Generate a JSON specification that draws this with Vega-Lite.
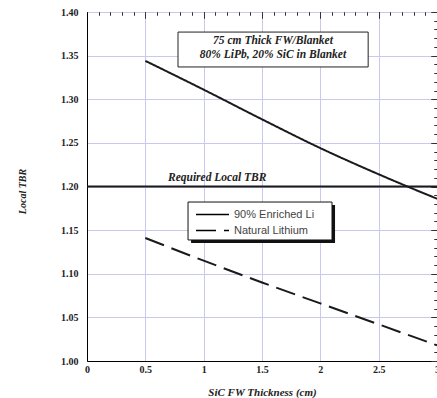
{
  "$schema": "https://vega.github.io/schema/vega-lite/v6.json",
  "autosize": {"type": "none"},
  "width": 350,
  "height": 349,
  "padding": {"left": 87, "top": 12, "right": 0, "bottom": 37},
  "background": "white",
  "config": {
    "view": {"stroke": "black", "strokeWidth": 1},
    "axis": {"domainColor": "black", "tickColor": "#333", "labelFont": "Liberation Serif", "titleFont": "Liberation Serif"}
  },
  "datasets": {
    "curves": [
      {"x": 0.5, "tbr": 1.344, "series": "90% Enriched Li"},
      {"x": 1.0, "tbr": 1.311, "series": "90% Enriched Li"},
      {"x": 1.5, "tbr": 1.277, "series": "90% Enriched Li"},
      {"x": 2.0, "tbr": 1.244, "series": "90% Enriched Li"},
      {"x": 2.5, "tbr": 1.214, "series": "90% Enriched Li"},
      {"x": 3.0, "tbr": 1.186, "series": "90% Enriched Li"},
      {"x": 0.5, "tbr": 1.141, "series": "Natural Lithium"},
      {"x": 1.0, "tbr": 1.115, "series": "Natural Lithium"},
      {"x": 1.5, "tbr": 1.090, "series": "Natural Lithium"},
      {"x": 2.0, "tbr": 1.066, "series": "Natural Lithium"},
      {"x": 2.5, "tbr": 1.042, "series": "Natural Lithium"},
      {"x": 3.0, "tbr": 1.018, "series": "Natural Lithium"}
    ],
    "required": [{"x0": 0, "x1": 3, "tbr": 1.2}],
    "legendshadow": [{"x0": 0.892, "x1": 2.126, "y0": 1.1788, "y1": 1.1353}],
    "legendbox": [{"x0": 0.866, "x1": 2.1, "y0": 1.1822, "y1": 1.1387}],
    "titlebox": [{"x0": 0.78, "x1": 2.41, "y0": 1.377, "y1": 1.337}],
    "boxtext": [
      {"x": 1.594, "y": 1.367, "label": "75 cm Thick FW/Blanket"},
      {"x": 1.594, "y": 1.3507, "label": "80% LiPb, 20% SiC in Blanket"}
    ],
    "reqtext": [{"x": 0.694, "y": 1.2063, "label": "Required Local TBR"}]
  },
  "layer": [
    {
      "data": {"name": "curves"},
      "mark": {"type": "line", "color": "#1a1a1a", "strokeWidth": 2, "interpolate": "monotone"},
      "encoding": {
        "x": {"field": "x", "type": "quantitative", "scale": {"domain": [0, 3], "nice": false, "zero": false},
          "axis": {"values": [0, 0.5, 1, 1.5, 2, 2.5, 3], "format": "~g", "ticks": false, "grid": true, "gridColor": "#c8c8f0", "labelFlush": false, "labelFontWeight": "bold", "labelFontSize": 10, "labelColor": "#222", "labelPadding": 3,
            "title": "SiC FW Thickness (cm)", "titleFontStyle": "italic", "titleFontWeight": "bold", "titleFontSize": 11, "titleColor": "#222", "titleBaseline": "middle", "titleY": 31}},
        "y": {"field": "tbr", "type": "quantitative", "scale": {"domain": [1.0, 1.4], "nice": false, "zero": false},
          "axis": {"values": [1.0, 1.05, 1.1, 1.15, 1.2, 1.25, 1.3, 1.35, 1.4], "format": ".2f", "ticks": false, "grid": true, "gridColor": "#c8c8f0", "labelFontWeight": "bold", "labelFontSize": 10, "labelColor": "#222", "labelPadding": 9,
            "title": "Local TBR", "titleFontStyle": "italic", "titleFontWeight": "bold", "titleFontSize": 10, "titleColor": "#222", "titleAngle": -90, "titleX": -65, "titleY": 179, "titleAlign": "center", "titleBaseline": "middle"}},
        "strokeDash": {"field": "series", "type": "nominal",
          "scale": {"domain": ["90% Enriched Li", "Natural Lithium"], "range": [[1, 0], [20, 8]]},
          "legend": {"orient": "none", "legendX": 119, "legendY": 196, "title": null, "symbolType": "M-3,0L3,0", "symbolSize": 121, "symbolStrokeWidth": 1.5, "symbolStrokeColor": "black", "labelFont": "Liberation Sans", "labelFontSize": 11, "labelColor": "#444", "labelOffset": 15, "rowPadding": 4, "padding": 0}
        }
      }
    },
    {
      "data": {"name": "required"},
      "mark": {"type": "rule", "color": "#1a1a1a", "strokeWidth": 2},
      "encoding": {
        "x": {"field": "x0", "type": "quantitative", "axis": {"values": [0, 0.5, 1, 1.5, 2, 2.5, 3], "labels": false, "grid": false, "domain": false, "tickSize": -6, "title": null}},
        "x2": {"field": "x1"},
        "y": {"field": "tbr", "type": "quantitative", "axis": {"values": [1.0, 1.05, 1.1, 1.15, 1.2, 1.25, 1.3, 1.35, 1.4], "labels": false, "grid": false, "domain": false, "tickSize": -6, "title": null}}
      }
    },
    {
      "data": {"name": "legendshadow"},
      "mark": {"type": "rect", "color": "#111"},
      "encoding": {
        "x": {"field": "x0", "type": "quantitative", "axis": {"values": [0, 0.1, 0.2, 0.3, 0.4, 0.5, 0.6, 0.7, 0.8, 0.9, 1, 1.1, 1.2, 1.3, 1.4, 1.5, 1.6, 1.7, 1.8, 1.9, 2, 2.1, 2.2, 2.3, 2.4, 2.5, 2.6, 2.7, 2.8, 2.9, 3], "labels": false, "grid": false, "domain": false, "tickSize": -3, "title": null}},
        "x2": {"field": "x1"},
        "y": {"field": "y0", "type": "quantitative", "axis": {"values": [1.0, 1.01, 1.02, 1.03, 1.04, 1.05, 1.06, 1.07, 1.08, 1.09, 1.1, 1.11, 1.12, 1.13, 1.14, 1.15, 1.16, 1.17, 1.18, 1.19, 1.2, 1.21, 1.22, 1.23, 1.24, 1.25, 1.26, 1.27, 1.28, 1.29, 1.3, 1.31, 1.32, 1.33, 1.34, 1.35, 1.36, 1.37, 1.38, 1.39, 1.4], "labels": false, "grid": false, "domain": false, "tickSize": -3, "title": null}},
        "y2": {"field": "y1"}
      }
    },
    {
      "data": {"name": "legendbox"},
      "mark": {"type": "rect", "fill": "white", "stroke": "#111", "strokeWidth": 1},
      "encoding": {
        "x": {"field": "x0", "type": "quantitative", "axis": {"orient": "top", "values": [0, 0.1, 0.2, 0.3, 0.4, 0.5, 0.6, 0.7, 0.8, 0.9, 1, 1.1, 1.2, 1.3, 1.4, 1.5, 1.6, 1.7, 1.8, 1.9, 2, 2.1, 2.2, 2.3, 2.4, 2.5, 2.6, 2.7, 2.8, 2.9, 3], "labels": false, "grid": false, "domain": false, "tickSize": -3, "title": null}},
        "x2": {"field": "x1"},
        "y": {"field": "y0", "type": "quantitative", "axis": {"orient": "right", "values": [1.0, 1.01, 1.02, 1.03, 1.04, 1.05, 1.06, 1.07, 1.08, 1.09, 1.1, 1.11, 1.12, 1.13, 1.14, 1.15, 1.16, 1.17, 1.18, 1.19, 1.2, 1.21, 1.22, 1.23, 1.24, 1.25, 1.26, 1.27, 1.28, 1.29, 1.3, 1.31, 1.32, 1.33, 1.34, 1.35, 1.36, 1.37, 1.38, 1.39, 1.4], "labels": false, "grid": false, "domain": false, "tickSize": -3, "title": null}},
        "y2": {"field": "y1"}
      }
    },
    {
      "data": {"name": "titlebox"},
      "mark": {"type": "rect", "fill": "white", "stroke": "#222", "strokeWidth": 1},
      "encoding": {
        "x": {"field": "x0", "type": "quantitative", "axis": {"orient": "top", "values": [0, 0.5, 1, 1.5, 2, 2.5, 3], "labels": false, "grid": false, "domain": false, "tickSize": -6, "title": null}},
        "x2": {"field": "x1"},
        "y": {"field": "y0", "type": "quantitative", "axis": {"orient": "right", "values": [1.0, 1.05, 1.1, 1.15, 1.2, 1.25, 1.3, 1.35, 1.4], "labels": false, "grid": false, "domain": false, "tickSize": -6, "title": null}},
        "y2": {"field": "y1"}
      }
    },
    {
      "data": {"name": "boxtext"},
      "mark": {"type": "text", "font": "Liberation Serif", "fontStyle": "italic", "fontWeight": "bold", "fontSize": 11.5, "color": "#222", "align": "center", "baseline": "middle"},
      "encoding": {
        "x": {"field": "x", "type": "quantitative", "axis": null},
        "y": {"field": "y", "type": "quantitative", "axis": null},
        "text": {"field": "label"}
      }
    },
    {
      "data": {"name": "reqtext"},
      "mark": {"type": "text", "font": "Liberation Serif", "fontStyle": "italic", "fontWeight": "bold", "fontSize": 11.5, "color": "#222", "align": "left", "baseline": "alphabetic"},
      "encoding": {
        "x": {"field": "x", "type": "quantitative", "axis": null},
        "y": {"field": "y", "type": "quantitative", "axis": null},
        "text": {"field": "label"}
      }
    }
  ],
  "resolve": {"axis": {"x": "independent", "y": "independent"}}
}
